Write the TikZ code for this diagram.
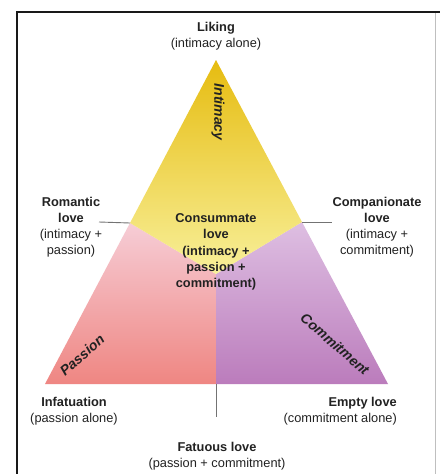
\documentclass[tikz,border=0pt]{standalone}
\usepackage{fontspec}
\setmainfont{Liberation Sans}
\definecolor{yelTop}{HTML}{E6BC10}
\definecolor{yelMid}{HTML}{F0D840}
\definecolor{yelBot}{HTML}{F8F09A}
\definecolor{pinkTop}{HTML}{F6CDD6}
\definecolor{pinkBot}{HTML}{EF8682}
\definecolor{purTop}{HTML}{DEBFE2}
\definecolor{purBot}{HTML}{BB7CBC}
\definecolor{txt}{HTML}{222222}
\begin{document}
\begin{tikzpicture}[x=1pt,y=-1pt,
  lbl/.style={align=center, font=\fontsize{12.8}{16.2}\selectfont, text=txt, inner sep=0pt},
  axislbl/.style={font=\fontsize{14}{16}\selectfont\bfseries\itshape, text=txt, inner sep=0pt},
  leader/.style={draw=black!55, line width=0.9pt}]
\useasboundingbox (0,0) rectangle (440,474);
\fill[white] (0,0) rectangle (440,474);
% frame
\draw[line width=1.6pt, black!90] (17,474) -- (17,12) -- (440,12);
\draw[line width=1pt, black!25] (435,13) -- (435,474);
% triangle points
\coordinate (A) at (216,60);
\coordinate (L) at (130,223);
\coordinate (R) at (302,222);
\coordinate (M) at (216,274);
\coordinate (BL) at (45,384);
\coordinate (BR) at (388,384);
\coordinate (BM) at (216,384);
% regions
\shade[top color=pinkTop, bottom color=pinkBot] (L) -- (BL) -- (BM) -- (M) -- cycle;
\shade[top color=purTop, bottom color=purBot] (R) -- (BR) -- (BM) -- (M) -- cycle;
\shade[top color=yelTop, middle color=yelMid, bottom color=yelBot] (A) -- (L) -- (M) -- (R) -- cycle;
% leader lines
\coordinate (Lt) at (99,222);
\coordinate (Rt) at (332,222);
\coordinate (Ft) at (216,417);
\draw[leader] (Lt) -- (L);
\draw[leader] (R) -- (Rt);
\draw[leader] (BM) -- (Ft);
% labels
\node[lbl] (liking) at (216,36) {\textbf{Liking}\\(intimacy alone)};
\node[lbl] (romantic) at (71,227) {\textbf{Romantic}\\\textbf{love}\\(intimacy +\\passion)};
\node[lbl] (companionate) at (377,227) {\textbf{Companionate}\\\textbf{love}\\(intimacy +\\commitment)};
\node[lbl, font=\fontsize{12.8}{16.2}\selectfont\bfseries] (consummate) at (216,252) {Consummate\\love\\(intimacy +\\passion +\\commitment)};
\node[lbl] (infatuation) at (74,411) {\textbf{Infatuation}\\(passion alone)};
\node[lbl, align=right, anchor=east] (empty) at (397,411) {\textbf{Empty love}\\(commitment alone)};
\node[lbl] (fatuous) at (217,456) {\textbf{Fatuous love}\\(passion + commitment)};
% axis labels
\node[axislbl, rotate=-90] (intimacy) at (218,112) {Intimacy};
\node[axislbl, rotate=41] (passion) at (82,355) {Passion};
\node[axislbl, rotate=-41] (commitment) at (335,344) {Commitment};
\end{tikzpicture}
\end{document}
